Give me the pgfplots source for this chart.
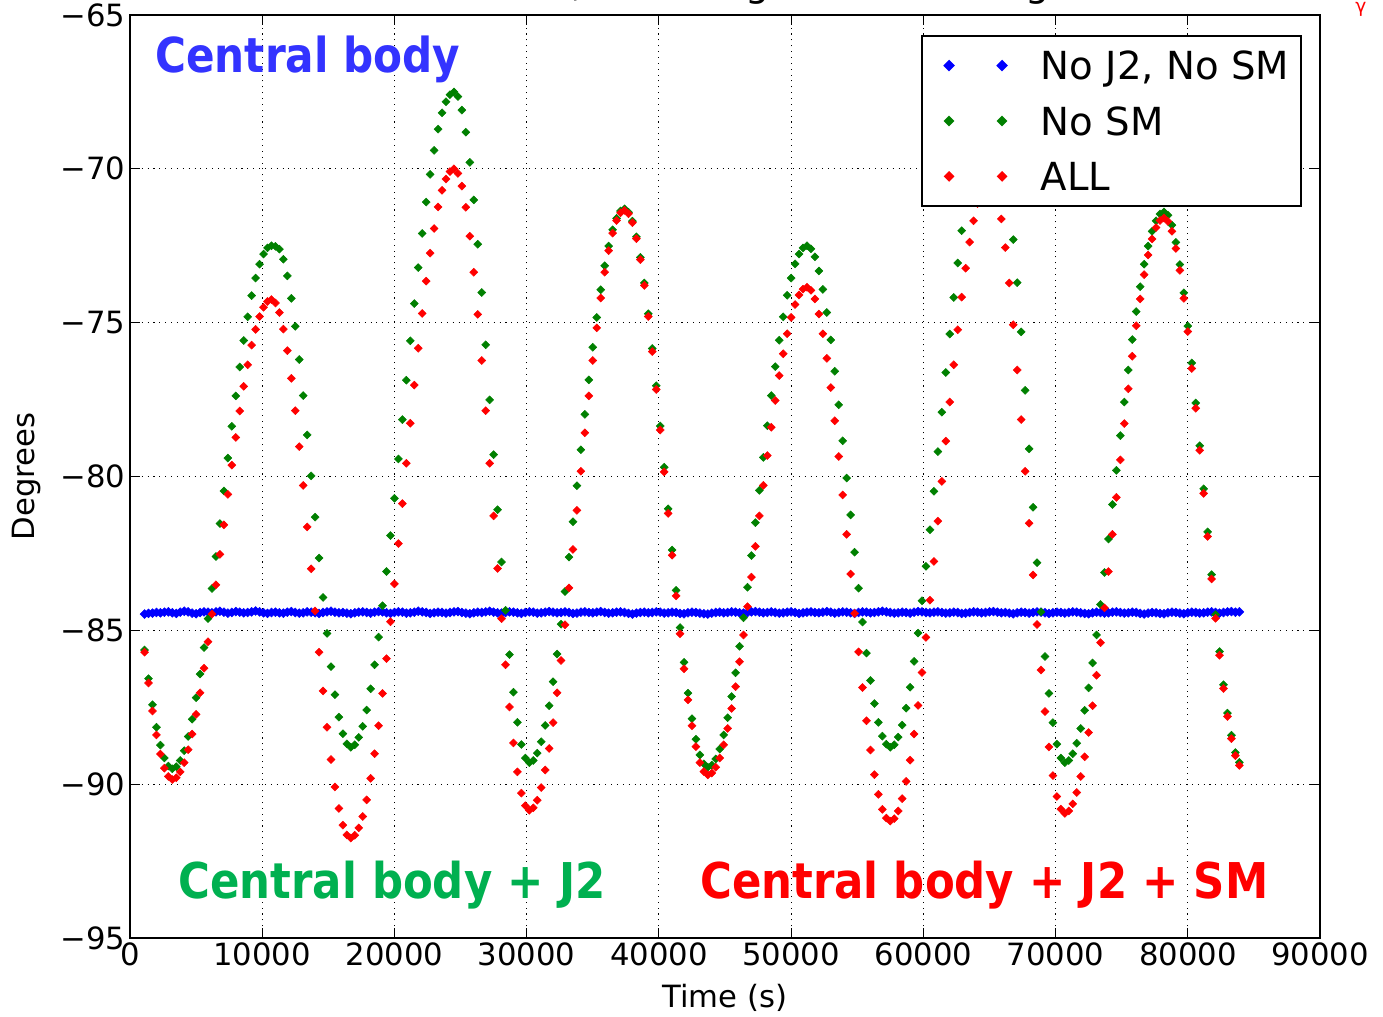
\documentclass[border=0pt]{standalone}
\usepackage{fontspec}
\setmainfont{DejaVu Sans}
\usepackage{graphicx}
\usepackage{pgfplots}
\usepackage{pgfplotstable}
\pgfplotsset{compat=1.18}
\usetikzlibrary{calc}

\definecolor{mblue}{RGB}{0,0,255}
\definecolor{mgreen}{RGB}{0,128,0}
\definecolor{mred}{RGB}{255,0,0}
\definecolor{lblue}{RGB}{51,51,255}
\definecolor{lgreen}{RGB}{0,176,80}

\pgfplotstableread{
x g r b
1100 -85.64 -85.71 -84.47
1400 -86.57 -86.71 -84.45
1700 -87.42 -87.62 -84.44
2000 -88.15 -88.40 -84.42
2300 -88.73 -89.02 -84.43
2600 -89.15 -89.48 -84.41
2900 -89.41 -89.75 -84.40
3200 -89.50 -89.85 -84.43
3500 -89.43 -89.79 -84.45
3800 -89.23 -89.60 -84.41
4100 -88.91 -89.30 -84.38
4400 -88.45 -88.88 -84.40
4700 -87.89 -88.37 -84.44
5000 -87.19 -87.73 -84.46
5300 -86.42 -87.03 -84.42
5600 -85.56 -86.23 -84.40
5900 -84.62 -85.37 -84.41
6200 -83.64 -84.47 -84.43
6500 -82.60 -83.52 -84.40
6800 -81.53 -82.53 -84.38
7100 -80.47 -81.57 -84.41
7400 -79.40 -80.58 -84.44
7700 -78.37 -79.63 -84.42
8000 -77.38 -78.73 -84.39
8300 -76.44 -77.87 -84.41
8600 -75.58 -77.07 -84.43
8900 -74.81 -76.37 -84.42
9200 -74.12 -75.73 -84.40
9500 -73.55 -75.22 -84.37
9800 -73.10 -74.80 -84.40
10100 -72.77 -74.50 -84.43
10400 -72.57 -74.31 -84.45
10700 -72.50 -74.25 -84.42
11000 -72.52 -74.36 -84.41
11300 -72.61 -74.67 -84.43
11600 -72.94 -75.21 -84.44
11900 -73.48 -75.91 -84.41
12200 -74.21 -76.81 -84.39
12500 -75.12 -77.86 -84.42
12800 -76.20 -79.03 -84.44
13100 -77.37 -80.29 -84.43
13400 -78.65 -81.64 -84.40
13700 -79.98 -83.00 -84.41
14000 -81.32 -84.37 -84.43
14300 -82.65 -85.71 -84.45
14600 -83.93 -86.97 -84.42
14900 -85.10 -88.15 -84.40
15200 -86.18 -89.20 -84.38
15500 -87.09 -90.09 -84.41
15800 -87.82 -90.79 -84.43
16100 -88.36 -91.33 -84.42
16400 -88.69 -91.65 -84.44
16700 -88.80 -91.75 -84.46
17000 -88.72 -91.66 -84.43
17300 -88.48 -91.42 -84.41
17600 -88.12 -91.05 -84.40
17900 -87.59 -90.51 -84.42
18200 -86.90 -89.81 -84.44
18500 -86.12 -89.01 -84.41
18800 -85.22 -88.10 -84.39
19100 -84.20 -87.05 -84.40
19400 -83.09 -85.92 -84.43
19700 -81.92 -84.72 -84.45
20000 -80.71 -83.49 -84.42
20300 -79.43 -82.18 -84.40
20600 -78.15 -80.88 -84.41
20900 -76.87 -79.57 -84.44
21200 -75.59 -78.27 -84.43
21500 -74.38 -77.03 -84.41
21800 -73.21 -75.83 -84.38
22100 -72.10 -74.70 -84.40
22400 -71.08 -73.65 -84.42
22700 -70.18 -72.74 -84.45
23000 -69.40 -71.94 -84.43
23300 -68.71 -71.24 -84.41
23600 -68.18 -70.70 -84.42
23900 -67.82 -70.33 -84.44
24200 -67.59 -70.09 -84.42
24500 -67.50 -70.00 -84.40
24800 -67.65 -70.15 -84.39
25100 -68.09 -70.56 -84.42
25400 -68.81 -71.25 -84.44
25700 -69.79 -72.19 -84.46
26000 -71.01 -73.36 -84.43
26300 -72.45 -74.73 -84.41
26600 -74.02 -76.23 -84.42
26900 -75.72 -77.86 -84.40
27200 -77.51 -79.57 -84.38
27500 -79.29 -81.28 -84.41
27800 -81.08 -82.99 -84.43
28100 -82.78 -84.62 -84.44
28400 -84.35 -86.12 -84.42
28700 -85.79 -87.49 -84.40
29000 -87.01 -88.66 -84.41
29300 -87.99 -89.60 -84.43
29600 -88.71 -90.29 -84.45
29900 -89.15 -90.70 -84.42
30200 -89.30 -90.85 -84.40
30500 -89.23 -90.77 -84.41
30800 -88.99 -90.52 -84.44
31100 -88.62 -90.11 -84.43
31400 -88.09 -89.54 -84.41
31700 -87.45 -88.84 -84.39
32000 -86.67 -88.00 -84.41
32300 -85.77 -87.03 -84.43
32600 -84.80 -85.98 -84.42
32900 -83.74 -84.82 -84.40
33200 -82.62 -83.62 -84.42
33500 -81.47 -82.37 -84.45
33800 -80.30 -81.10 -84.44
34100 -79.13 -79.83 -84.41
34400 -77.98 -78.58 -84.40
34700 -76.86 -77.38 -84.42
35000 -75.80 -76.23 -84.43
35300 -74.83 -75.17 -84.41
35600 -73.93 -74.20 -84.39
35900 -73.15 -73.36 -84.42
36200 -72.51 -72.66 -84.44
36500 -71.98 -72.09 -84.43
36800 -71.61 -71.68 -84.41
37100 -71.37 -71.43 -84.40
37400 -71.30 -71.35 -84.42
37700 -71.41 -71.46 -84.45
38000 -71.70 -71.75 -84.47
38300 -72.21 -72.27 -84.44
38600 -72.88 -72.95 -84.42
38900 -73.71 -73.79 -84.41
39200 -74.71 -74.80 -84.43
39500 -75.84 -75.94 -84.42
39800 -77.05 -77.17 -84.40
40100 -78.36 -78.49 -84.41
40400 -79.70 -79.85 -84.44
40700 -81.05 -81.20 -84.43
41000 -82.39 -82.56 -84.41
41300 -83.70 -83.88 -84.42
41600 -84.91 -85.11 -84.45
41900 -86.04 -86.25 -84.46
42200 -87.04 -87.26 -84.43
42500 -87.87 -88.10 -84.41
42800 -88.54 -88.78 -84.42
43100 -89.05 -89.30 -84.44
43400 -89.34 -89.59 -84.46
43700 -89.45 -89.70 -84.47
44000 -89.38 -89.64 -84.44
44300 -89.18 -89.45 -84.42
44600 -88.86 -89.15 -84.41
44900 -88.40 -88.72 -84.43
45200 -87.84 -88.19 -84.42
45500 -87.15 -87.54 -84.40
45800 -86.38 -86.83 -84.41
46100 -85.52 -86.02 -84.43
46400 -84.59 -85.15 -84.44
46700 -83.60 -84.23 -84.42
47000 -82.57 -83.27 -84.40
47300 -81.50 -82.27 -84.39
47600 -80.45 -81.28 -84.41
47900 -79.38 -80.29 -84.43
48200 -78.35 -79.32 -84.42
48500 -77.37 -78.40 -84.40
48800 -76.43 -77.53 -84.42
49100 -75.57 -76.72 -84.44
49400 -74.81 -76.01 -84.43
49700 -74.11 -75.36 -84.41
50000 -73.55 -74.83 -84.40
50300 -73.09 -74.41 -84.42
50600 -72.77 -74.10 -84.45
50900 -72.57 -73.91 -84.43
51200 -72.50 -73.85 -84.41
51500 -72.60 -73.95 -84.40
51800 -72.86 -74.23 -84.42
52100 -73.32 -74.72 -84.43
52400 -73.92 -75.36 -84.41
52700 -74.67 -76.16 -84.39
53000 -75.56 -77.11 -84.41
53300 -76.58 -78.19 -84.44
53600 -77.67 -79.35 -84.42
53900 -78.84 -80.60 -84.40
54200 -80.05 -81.88 -84.41
54500 -81.25 -83.17 -84.43
54800 -82.46 -84.45 -84.45
55100 -83.63 -85.70 -84.42
55400 -84.73 -86.86 -84.40
55700 -85.74 -87.94 -84.41
56000 -86.63 -88.89 -84.43
56300 -87.38 -89.69 -84.42
56600 -87.99 -90.33 -84.40
56900 -88.44 -90.82 -84.38
57200 -88.70 -91.10 -84.40
57500 -88.80 -91.20 -84.42
57800 -88.72 -91.12 -84.44
58100 -88.47 -90.87 -84.43
58400 -88.08 -90.47 -84.41
58700 -87.53 -89.91 -84.42
59000 -86.85 -89.22 -84.44
59300 -86.01 -88.37 -84.41
59600 -85.09 -87.44 -84.39
59900 -84.04 -86.37 -84.40
60200 -82.92 -85.23 -84.42
60500 -81.73 -84.02 -84.43
60800 -80.48 -82.76 -84.41
61100 -79.19 -81.45 -84.40
61400 -77.91 -80.16 -84.42
61700 -76.62 -78.85 -84.44
62000 -75.37 -77.58 -84.43
62300 -74.18 -76.37 -84.41
62600 -73.06 -75.23 -84.42
62900 -72.01 -74.17 -84.45
63200 -71.09 -73.23 -84.44
63500 -70.25 -72.38 -84.42
63800 -69.57 -71.69 -84.40
64100 -69.02 -71.13 -84.41
64400 -68.63 -70.73 -84.43
64700 -68.38 -70.48 -84.42
65000 -68.30 -70.40 -84.40
65300 -68.45 -70.54 -84.39
65600 -68.87 -70.96 -84.41
65900 -69.56 -71.63 -84.43
66200 -70.20 -72.56 -84.42
66500 -71.10 -73.71 -84.44
66800 -72.30 -75.07 -84.46
67100 -73.70 -76.54 -84.43
67400 -75.30 -78.15 -84.41
67700 -77.20 -79.83 -84.42
68000 -79.10 -81.52 -84.44
68300 -81.00 -83.20 -84.42
68600 -82.80 -84.81 -84.40
68900 -84.40 -86.29 -84.41
69200 -85.85 -87.64 -84.43
69500 -87.05 -88.79 -84.45
69800 -88.00 -89.72 -84.43
70100 -88.70 -90.40 -84.41
70400 -89.15 -90.81 -84.42
70700 -89.30 -90.95 -84.44
71000 -89.23 -90.87 -84.42
71300 -89.01 -90.64 -84.40
71600 -88.67 -90.27 -84.41
71900 -88.19 -89.75 -84.43
72200 -87.60 -89.11 -84.45
72500 -86.87 -88.32 -84.46
72800 -86.06 -87.45 -84.43
73100 -85.15 -86.46 -84.41
73400 -84.16 -85.40 -84.42
73700 -83.12 -84.27 -84.44
74000 -82.03 -83.09 -84.43
74300 -80.91 -81.88 -84.41
74600 -79.80 -80.68 -84.40
74900 -78.67 -79.46 -84.42
75200 -77.58 -78.28 -84.44
75500 -76.54 -77.15 -84.43
75800 -75.55 -76.09 -84.41
76100 -74.64 -75.10 -84.42
76400 -73.83 -74.23 -84.45
76700 -73.10 -73.44 -84.47
77000 -72.51 -72.80 -84.44
77300 -72.03 -72.28 -84.42
77600 -71.69 -71.91 -84.43
77900 -71.47 -71.68 -84.45
78200 -71.40 -71.60 -84.46
78500 -71.51 -71.71 -84.43
78800 -71.83 -72.03 -84.41
79100 -72.39 -72.59 -84.42
79400 -73.11 -73.30 -84.44
79700 -74.03 -74.21 -84.46
80000 -75.11 -75.29 -84.43
80300 -76.31 -76.49 -84.41
80600 -77.61 -77.78 -84.42
80900 -79.00 -79.15 -84.44
81200 -80.40 -80.55 -84.43
81500 -81.80 -81.95 -84.41
81800 -83.19 -83.33 -84.40
82100 -84.49 -84.61 -84.42
82400 -85.69 -85.81 -84.44
82700 -86.77 -86.89 -84.42
83000 -87.69 -87.80 -84.40
83300 -88.41 -88.52 -84.39
83600 -88.97 -89.07 -84.41
83900 -89.29 -89.39 -84.40
}\datatable

\begin{document}
\begin{tikzpicture}
\begin{axis}[
  scale only axis,
  width=892.5pt, height=692.25pt,
  xmin=0, xmax=90000, ymin=-95, ymax=-65,
  xtick={0,10000,20000,30000,40000,50000,60000,70000,80000,90000},
  xticklabels={0,10000,20000,30000,40000,50000,60000,70000,80000,90000},
  ytick={-95,-90,-85,-80,-75,-70,-65},
  yticklabels={−95,−90,−85,−80,−75,−70,−65},
  scaled x ticks=false, scaled y ticks=false,
  tick align=inside,
  major tick length=7.5pt,
  tick style={black, line width=0.9pt},
  axis line style={black, line width=1.2pt},
  grid=major,
  major grid style={black, line width=0.8pt, dash pattern=on 0.8pt off 3.6pt},
  ticklabel style={font=\fontsize{23}{27}\selectfont},
  xlabel={Time (s)}, ylabel={Degrees},
  label style={font=\fontsize{23}{27}\selectfont},
  xlabel style={at={(axis description cs:0.5,-0.0748)}, anchor=base},
  ylabel style={at={(axis description cs:-0.0803,0.5)}, anchor=base},
  title={Session 3.1, Exer. Argument of Perigee},
  title style={at={(axis description cs:0.5,1.0112)}, anchor=base, font=\fontsize{28.5}{32}\selectfont, inner sep=0pt},
  legend cell align=left,
  legend style={at={(axis description cs:1,1)}, anchor=north east, xshift=-13.5pt, yshift=-15pt,
    draw=black, line width=1.5pt, fill=white, inner xsep=9pt, inner ysep=11.6pt, row sep=20.5pt,
    font=\fontsize{29}{32}\selectfont,
    nodes={inner sep=0pt, text height=21.1pt, text depth=0pt, anchor=west}},
  legend image code/.code={
     \path[draw=none, fill=none] (0pt,0pt) -- (80pt,0pt);
     \path[#1, draw=none] plot coordinates {(11.25pt,0pt) (51pt,0pt)};
  },
]
\addplot[only marks, color=mblue, mark=square*, mark size=2.35pt, mark options={rotate=45, draw=none, fill=mblue}] table[x=x, y=b] {\datatable};
\addlegendentry{No J2, No SM}
\addplot[only marks, color=mgreen, mark=square*, mark size=2.1pt, mark options={rotate=45, draw=none, fill=mgreen}] table[x=x, y=g] {\datatable};
\addlegendentry{No SM}
\addplot[only marks, color=mred, mark=square*, mark size=2.1pt, mark options={rotate=45, draw=none, fill=mred}] table[x=x, y=r] {\datatable};
\addlegendentry{ALL}

\node[anchor=base west, inner sep=0pt, text=lblue] at (axis cs:1891,-66.885) {\resizebox{228.75pt}{27.45pt}{\bfseries Central body}};
\node[anchor=base west, inner sep=0pt, text=lgreen] at (axis cs:3630,-93.70) {\resizebox{320.25pt}{28.1pt}{\bfseries Central body + J2}};
\node[anchor=base west, inner sep=0pt, text=mred] at (axis cs:43109,-93.70) {\resizebox{426pt}{28.1pt}{\bfseries Central body + J2 + SM}};

\coordinate (LL) at (rel axis cs:0,0);
\coordinate (UR) at (rel axis cs:1,1);
\end{axis}
\node[text=mred, anchor=base, inner sep=0pt, font=\fontsize{14}{14}\selectfont] at ($(UR)+(30.75pt,1.5pt)$) {γ};
\pgfresetboundingbox
\path[use as bounding box] ($(LL)+(-97.5pt,-58.5pt)$) rectangle ($(UR)+(47.25pt,11.25pt)$);
\end{tikzpicture}
\end{document}
